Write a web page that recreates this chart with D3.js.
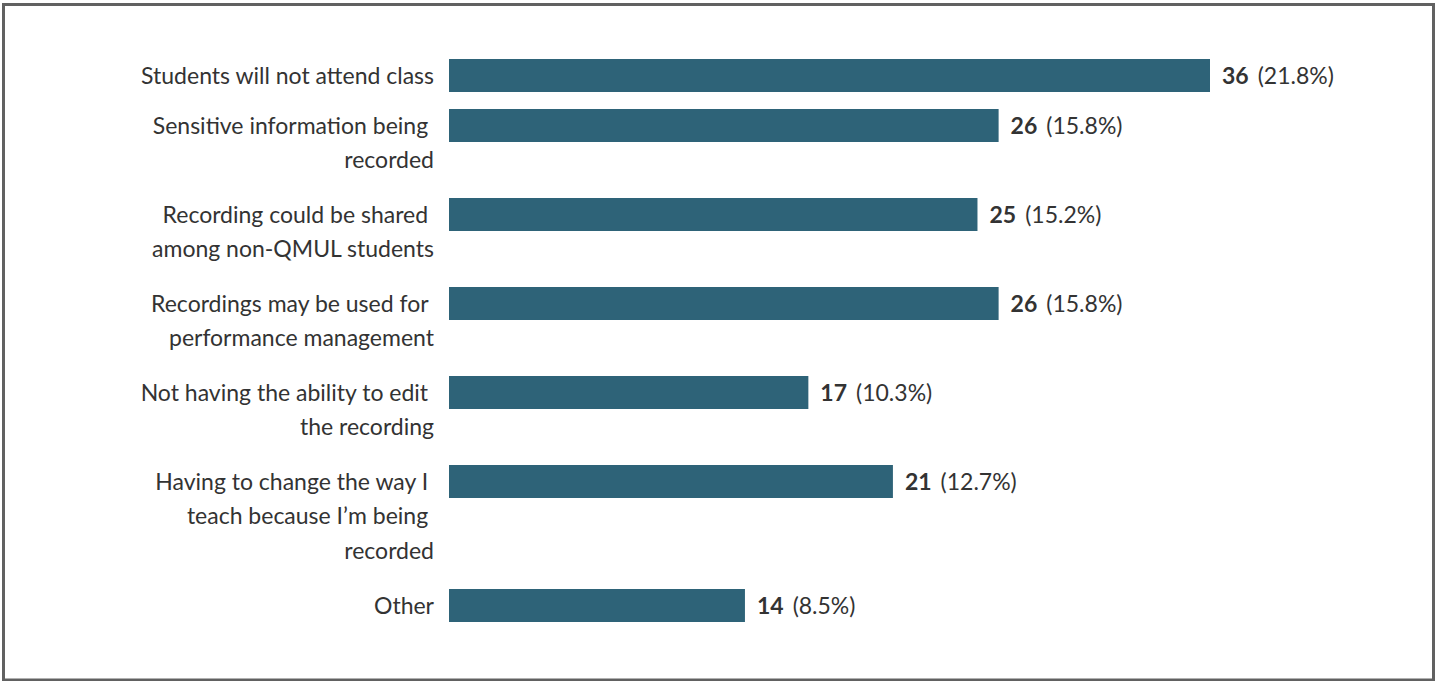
<!DOCTYPE html>
<html>
<head>
<meta charset="utf-8">
<script src="https://cdn.jsdelivr.net/npm/d3@7"></script>
<style>
  html, body { margin: 0; padding: 0; background: #fff; }
  svg { display: block; }
  text { font-family: Lato, "Open Sans", sans-serif; }
</style>
</head>
<body>
<script>
// ---- data ----
const categories = [
  ["Students will not attend class"],
  ["Sensitive information being ", "recorded"],
  ["Recording could be shared ", "among non-QMUL students"],
  ["Recordings may be used for ", "performance management"],
  ["Not having the ability to edit ", "the recording"],
  ["Having to change the way I ", "teach because I\u2019m being ", "recorded"],
  ["Other"]
];
const counts = [36, 26, 25, 26, 17, 21, 14];
const percents = ["21.8%", "15.8%", "15.2%", "15.8%", "10.3%", "12.7%", "8.5%"];

// ---- layout ----
const W = 1435, H = 681;
const barColor = "#2e6378";
const textColor = "#333333";
const fontSize = 23;
const barH = 33;
const linePitch = 34.5;
const firstTop = 59;

const svg = d3.select("body").append("svg").attr("width", W).attr("height", H);

svg.append("rect")
  .attr("x", 3.5).attr("y", 4.5)
  .attr("width", 1430).attr("height", 675.5)
  .attr("fill", "none").attr("stroke", "#616161").attr("stroke-width", 3);

const x = d3.scaleLinear().domain([0, 36]).range([449, 1210]);

// row tops computed from number of label lines
const rows = [];
let y = firstTop;
categories.forEach((lines, i) => {
  rows.push({ lines, count: counts[i], pct: percents[i], top: y });
  const n = lines.length;
  y += n === 1 ? 50 : 54 + 35 * (n - 1);
});

const g = svg.append("g");

g.selectAll("rect.bar").data(rows).join("rect")
  .attr("class", "bar")
  .attr("x", x(0))
  .attr("y", d => d.top)
  .attr("width", d => x(d.count) - x(0))
  .attr("height", barH)
  .attr("fill", barColor);

const labels = g.selectAll("text.cat").data(rows).join("text")
  .attr("class", "cat")
  .attr("text-anchor", "end")
  .attr("font-size", fontSize)
  .attr("fill", textColor)
  .style("white-space", "pre");

labels.selectAll("tspan").data(d => d.lines.map((l, j) => ({ l, j, top: d.top }))).join("tspan")
  .attr("x", 434)
  .attr("y", t => t.top + barH / 2 + 8 + t.j * linePitch)
  .text(t => t.l);

const vals = g.selectAll("text.val").data(rows).join("text")
  .attr("class", "val")
  .attr("x", d => x(d.count) + 12)
  .attr("y", d => d.top + barH / 2 + 8)
  .attr("font-size", fontSize)
  .attr("fill", textColor);

vals.append("tspan").attr("font-weight", 700).text(d => d.count);
vals.append("tspan").attr("dx", 9).text(d => "(" + d.pct + ")");
</script>
</body>
</html>
